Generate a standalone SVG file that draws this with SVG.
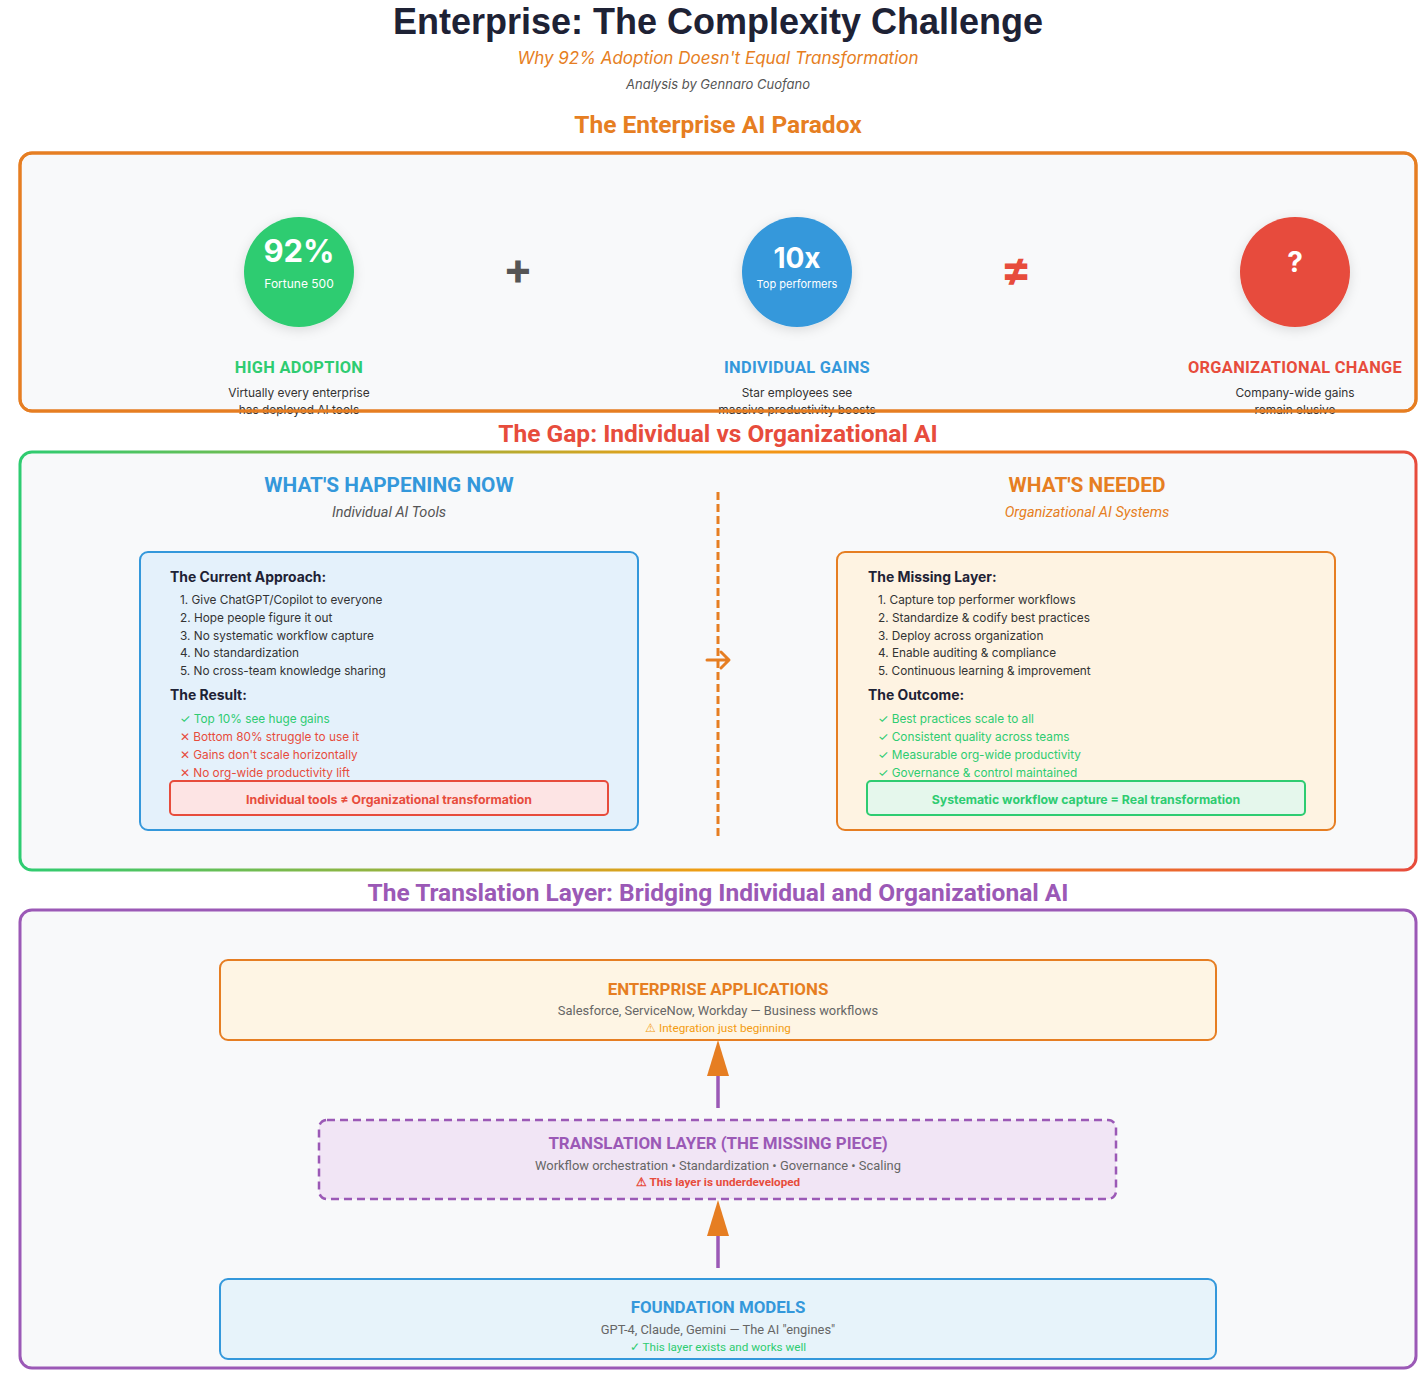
<svg xmlns="http://www.w3.org/2000/svg" width="1428" height="1376" viewBox="0 0 1428 1376">
<defs>
<linearGradient id="gapGrad" x1="0" y1="0" x2="1" y2="0">
<stop offset="0" stop-color="#2ecc71"/>
<stop offset="0.5" stop-color="#f39c12"/>
<stop offset="1" stop-color="#e74c3c"/>
</linearGradient>
<filter id="shadow" x="-30%" y="-30%" width="160%" height="160%">
<feDropShadow dx="0" dy="3" stdDeviation="6" flood-color="#000" flood-opacity="0.12"/>
</filter>
<style>
text{font-family:Inter,"Noto Sans","Liberation Sans",sans-serif}
.h1{font-family:"Liberation Sans",Arial,sans-serif;font-weight:bold;font-size:36px;fill:#1e2235}
.sec{font-family:Roboto,"Liberation Sans",sans-serif;font-weight:bold;font-size:24.5px}
.panel{fill:#f8f9fa;stroke-width:3}
.lbl{font-family:Roboto,"Liberation Sans",sans-serif;font-weight:bold;font-size:16.4px;letter-spacing:0.3px}
.desc{font-size:11.9px;fill:#333}
.cbig{font-weight:bold;fill:#fff}
.csm{fill:#fff;font-size:12px}
.csm2{fill:#fff;font-size:11px}
.colh{font-family:Roboto,"Liberation Sans",sans-serif;font-weight:bold;font-size:20.8px}
.colsub{font-family:Roboto,"Liberation Sans",sans-serif;font-style:italic;font-size:14.5px}
.bh{font-weight:bold;font-size:13.9px;fill:#1e2235}
.li{font-size:11.8px;fill:#333}
.ok{font-size:11.8px;fill:#2ecc71}
.bad{font-size:11.8px;fill:#e74c3c}
.lt{font-family:Roboto,"Liberation Sans",sans-serif;font-weight:bold;font-size:16.9px}
.ls{font-family:Roboto,"Liberation Sans",sans-serif;font-size:12.9px;fill:#666}
.ln{font-family:Roboto,"Liberation Sans",sans-serif;font-size:11.7px}
</style>
</defs>
<rect width="1428" height="1376" fill="#ffffff"/>

<g id="header">
<text class="h1" x="718" y="34" text-anchor="middle">Enterprise: The Complexity Challenge</text>
<text x="718" y="64" text-anchor="middle" font-family="Liberation Sans,Arial,sans-serif" font-style="italic" font-size="17" fill="#e67e22">Why 92% Adoption Doesn't Equal Transformation</text>
<text x="718" y="89" text-anchor="middle" font-family="Liberation Sans,Arial,sans-serif" font-style="italic" font-size="13" fill="#555">Analysis by Gennaro Cuofano</text>
</g>

<g id="paradox">
<text class="sec" x="718" y="133" text-anchor="middle" fill="#e67e22">The Enterprise AI Paradox</text>
<rect class="panel" x="20" y="153" width="1396" height="258" rx="12" stroke="#e67e22"/>
</g>

<g id="node-adoption">
<circle cx="299" cy="272" r="55" fill="#2ecc71" filter="url(#shadow)"/>
<text class="cbig" x="299" y="262" text-anchor="middle" font-size="31">92%</text>
<text class="csm" x="299" y="288" text-anchor="middle">Fortune 500</text>
<text class="lbl" x="299" y="373" text-anchor="middle" fill="#2ecc71">HIGH ADOPTION</text>
<text class="desc" x="299" y="397" text-anchor="middle">Virtually every enterprise</text>
<text class="desc" x="299" y="414" text-anchor="middle">has deployed AI tools</text>
</g>
<g id="op-plus"><text x="518" y="284" text-anchor="middle" font-family="DejaVu Sans,sans-serif" font-weight="bold" font-size="44" fill="#555">+</text></g>
<g id="node-gains">
<circle cx="797" cy="272" r="55" fill="#3498db" filter="url(#shadow)"/>
<text class="cbig" x="797" y="268" text-anchor="middle" font-size="28">10x</text>
<text class="csm2" x="797" y="288" text-anchor="middle">Top performers</text>
<text class="lbl" x="797" y="373" text-anchor="middle" fill="#3498db">INDIVIDUAL GAINS</text>
<text class="desc" x="797" y="397" text-anchor="middle">Star employees see</text>
<text class="desc" x="797" y="414" text-anchor="middle">massive productivity boosts</text>
</g>
<g id="op-neq"><text x="1016" y="285" text-anchor="middle" font-family="DejaVu Sans,sans-serif" font-weight="bold" font-size="46" fill="#e74c3c">≠</text></g>
<g id="node-change">
<circle cx="1295" cy="272" r="55" fill="#e74c3c" filter="url(#shadow)"/>
<text class="cbig" x="1295" y="272" text-anchor="middle" font-size="28">?</text>
<text class="lbl" x="1295" y="373" text-anchor="middle" fill="#e74c3c">ORGANIZATIONAL CHANGE</text>
<text class="desc" x="1295" y="397" text-anchor="middle">Company-wide gains</text>
<text class="desc" x="1295" y="414" text-anchor="middle">remain elusive</text>
</g>
<rect x="20" y="153" width="1396" height="258" rx="12" fill="none" stroke="#e67e22" stroke-width="3"/>

<g id="gap">
<text class="sec" x="718" y="442" text-anchor="middle" fill="#e74c3c">The Gap: Individual vs Organizational AI</text>
<rect class="panel" x="20" y="452" width="1396" height="418" rx="12" stroke="url(#gapGrad)"/>
<text class="colh" x="389" y="492" text-anchor="middle" fill="#3498db">WHAT'S HAPPENING NOW</text>
<text class="colsub" x="389" y="517" text-anchor="middle" fill="#555">Individual AI Tools</text>
<text class="colh" x="1087" y="492" text-anchor="middle" fill="#e67e22">WHAT'S NEEDED</text>
<text class="colsub" x="1087" y="517" text-anchor="middle" fill="#e67e22">Organizational AI Systems</text>
</g>

<g id="node-current">
<rect x="140" y="552" width="498" height="278" rx="8" fill="#e4f1fb" stroke="#3498db" stroke-width="2"/>
<text class="bh" x="170" y="582">The Current Approach:</text>
<text class="li" x="180" y="604">1. Give ChatGPT/Copilot to everyone</text>
<text class="li" x="180" y="622">2. Hope people figure it out</text>
<text class="li" x="180" y="640">3. No systematic workflow capture</text>
<text class="li" x="180" y="657">4. No standardization</text>
<text class="li" x="180" y="675">5. No cross-team knowledge sharing</text>
<text class="bh" x="170" y="700">The Result:</text>
<text class="ok" x="180" y="723">✓ Top 10% see huge gains</text>
<text class="bad" x="180" y="741">✕ Bottom 80% struggle to use it</text>
<text class="bad" x="180" y="759">✕ Gains don't scale horizontally</text>
<text class="bad" x="180" y="777">✕ No org-wide productivity lift</text>
<rect x="170" y="781" width="438" height="34" rx="4" fill="#fde4e4" stroke="#e74c3c" stroke-width="2"/>
<text x="389" y="804" text-anchor="middle" font-weight="bold" font-size="12.3" fill="#e74c3c">Individual tools ≠ Organizational transformation</text>
</g>

<g id="node-needed">
<rect x="837" y="552" width="498" height="278" rx="8" fill="#fef3e2" stroke="#e67e22" stroke-width="2"/>
<text class="bh" x="868" y="582">The Missing Layer:</text>
<text class="li" x="878" y="604">1. Capture top performer workflows</text>
<text class="li" x="878" y="622">2. Standardize &amp; codify best practices</text>
<text class="li" x="878" y="640">3. Deploy across organization</text>
<text class="li" x="878" y="657">4. Enable auditing &amp; compliance</text>
<text class="li" x="878" y="675">5. Continuous learning &amp; improvement</text>
<text class="bh" x="868" y="700">The Outcome:</text>
<text class="ok" x="878" y="723">✓ Best practices scale to all</text>
<text class="ok" x="878" y="741">✓ Consistent quality across teams</text>
<text class="ok" x="878" y="759">✓ Measurable org-wide productivity</text>
<text class="ok" x="878" y="777">✓ Governance &amp; control maintained</text>
<rect x="867" y="781" width="438" height="34" rx="4" fill="#e5f7ec" stroke="#2ecc71" stroke-width="2"/>
<text x="1086" y="804" text-anchor="middle" font-weight="bold" font-size="12.3" fill="#2ecc71">Systematic workflow capture = Real transformation</text>
</g>

<g id="translation">
<text class="sec" x="718" y="901" text-anchor="middle" fill="#9b59b6">The Translation Layer: Bridging Individual and Organizational AI</text>
<rect class="panel" x="20" y="910" width="1396" height="458" rx="12" stroke="#9b59b6"/>
</g>

<g id="node-apps">
<rect x="220" y="960" width="996" height="80" rx="8" fill="#fef5e4" stroke="#e67e22" stroke-width="2"/>
<text class="lt" x="718" y="995" text-anchor="middle" fill="#e67e22">ENTERPRISE APPLICATIONS</text>
<text class="ls" x="718" y="1015" text-anchor="middle">Salesforce, ServiceNow, Workday — Business workflows</text>
<text class="ln" x="718" y="1032" text-anchor="middle" fill="#f39c12">⚠ Integration just beginning</text>
</g>

<g id="node-layer">
<rect x="319" y="1120" width="797" height="79" rx="8" fill="#f1e5f5" stroke="#9b59b6" stroke-width="2.5" stroke-dasharray="8 5"/>
<text class="lt" x="718" y="1149" text-anchor="middle" fill="#9b59b6">TRANSLATION LAYER (THE MISSING PIECE)</text>
<text class="ls" x="718" y="1170" text-anchor="middle">Workflow orchestration • Standardization • Governance • Scaling</text>
<text class="ln" x="718" y="1186" text-anchor="middle" fill="#e74c3c" font-weight="bold">⚠ This layer is underdeveloped</text>
</g>

<g id="node-foundation">
<rect x="220" y="1279" width="996" height="80" rx="8" fill="#e7f3fa" stroke="#3498db" stroke-width="2"/>
<text class="lt" x="718" y="1313" text-anchor="middle" fill="#3498db">FOUNDATION MODELS</text>
<text class="ls" x="718" y="1334" text-anchor="middle">GPT-4, Claude, Gemini — The AI "engines"</text>
<text class="ln" x="718" y="1351" text-anchor="middle" fill="#2ecc71">✓ This layer exists and works well</text>
</g>

<g id="connectors">
<line x1="718" y1="492" x2="718" y2="840" stroke="#e67e22" stroke-width="3" stroke-dasharray="8 4"/>
<path d="M707 660 H728 M721 652 L729 660 L721 668" fill="none" stroke="#e67e22" stroke-width="3" stroke-linecap="round" stroke-linejoin="round"/>
<line x1="718" y1="1108" x2="718" y2="1074" stroke="#9b59b6" stroke-width="3.5"/>
<polygon points="718,1040 707,1076 729,1076" fill="#e67e22"/>
<line x1="718" y1="1268" x2="718" y2="1234" stroke="#9b59b6" stroke-width="3.5"/>
<polygon points="718,1200 707,1236 729,1236" fill="#e67e22"/>
</g>
</svg>
